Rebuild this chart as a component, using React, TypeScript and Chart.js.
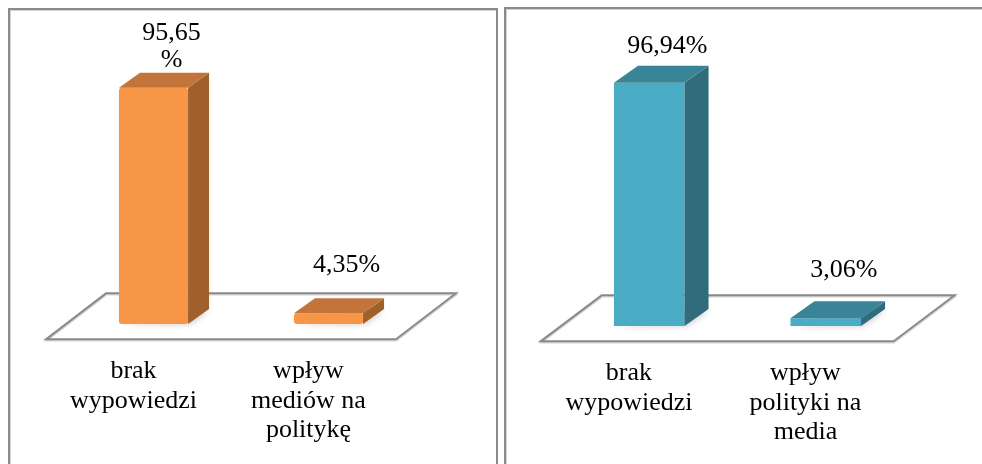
import React, { useEffect, useRef } from "react";
import { Chart, registerables } from "chart.js";

Chart.register(...registerables);

// ---------- data ----------
const categoriesLeft: string[][] = [["brak", "wypowiedzi"], ["wpływ", "mediów na", "politykę"]];
const valuesLeft: number[] = [95.65, 4.35];
const categoriesRight: string[][] = [["brak", "wypowiedzi"], ["wpływ", "polityki na", "media"]];
const valuesRight: number[] = [96.94, 3.06];
const axisMin = 0;
const axisMax = 100;
// whether a value label wraps before the "%" sign (as in the original)
const wrapLeft: boolean[] = [true, false];
const wrapRight: boolean[] = [false, false];

const FONT = '"Liberation Serif", "Times New Roman", serif';

function fmt(v: number, wrap: boolean): string[] {
  const s = v.toFixed(2).replace(".", ",");
  return wrap ? [s, "%"] : [s + "%"];
}

const bar3d = {
  id: "bar3d",
  beforeDatasetsDraw(chart: any, _args: any, opts: any) {
    const { ctx, chartArea: ca } = chart;
    const ys = chart.scales.y;
    const D = opts.floorDepth;
    const base = ys.getPixelForValue(0);
    const f = 1 / 3;
    const pts = [
      [ca.left - D.x * f, base - D.y * f],
      [ca.right - D.x * f, base - D.y * f],
      [ca.right + D.x * (1 - f), base + D.y * (1 - f)],
      [ca.left + D.x * (1 - f), base + D.y * (1 - f)],
    ];
    const path = () => {
      ctx.beginPath();
      ctx.moveTo(pts[0][0], pts[0][1]);
      for (let i = 1; i < 4; i++) ctx.lineTo(pts[i][0], pts[i][1]);
      ctx.closePath();
    };
    ctx.save();
    path();
    ctx.fillStyle = "#ffffff";
    ctx.fill();
    ctx.save();
    ctx.translate(0.5, 1.5);
    path();
    ctx.strokeStyle = "#d6d6d6";
    ctx.lineWidth = 1.5;
    ctx.stroke();
    ctx.restore();
    path();
    ctx.strokeStyle = "#8a8a8a";
    ctx.lineWidth = 2;
    ctx.stroke();
    // soft shadows of the bars on the floor
    const meta = chart.getDatasetMeta(0);
    const d = opts.barDepth;
    meta.data.forEach((bar: any) => {
      const { x, base: b, width } = bar.getProps(["x", "base", "width"], true);
      const r = x + width / 2;
      ctx.save();
      ctx.shadowColor = "rgba(0,0,0,0.35)";
      ctx.shadowBlur = 6;
      ctx.shadowOffsetX = 2;
      ctx.shadowOffsetY = 2;
      ctx.fillStyle = "rgba(200,200,200,0.6)";
      ctx.beginPath();
      ctx.moveTo(x - width / 2 + 2, b - 2);
      ctx.lineTo(r, b - 2);
      ctx.lineTo(r + d.x - 2, b + d.y);
      ctx.lineTo(r, b + d.y);
      ctx.closePath();
      ctx.fill();
      ctx.restore();
    });
    ctx.restore();
  },
  afterDatasetsDraw(chart: any, _args: any, opts: any) {
    const { ctx } = chart;
    const xs = chart.scales.x;
    const ys = chart.scales.y;
    const d = opts.barDepth;
    const D = opts.floorDepth;
    const meta = chart.getDatasetMeta(0);
    const values: number[] = chart.data.datasets[0].data;
    ctx.save();
    meta.data.forEach((bar: any, i: number) => {
      const { x, y, base, width } = bar.getProps(["x", "y", "base", "width"], true);
      const l = x - width / 2;
      const r = x + width / 2;
      // side face
      ctx.fillStyle = opts.sideColor;
      ctx.beginPath();
      ctx.moveTo(r, y);
      ctx.lineTo(r + d.x, y + d.y);
      ctx.lineTo(r + d.x, base + d.y);
      ctx.lineTo(r, base);
      ctx.closePath();
      ctx.fill();
      // top face
      ctx.fillStyle = opts.topColor;
      ctx.beginPath();
      ctx.moveTo(l, y);
      ctx.lineTo(l + d.x, y + d.y);
      ctx.lineTo(r + d.x, y + d.y);
      ctx.lineTo(r, y);
      ctx.closePath();
      ctx.fill();
      // value label
      const lines = fmt(values[i], opts.wrap[i]);
      ctx.fillStyle = "#000";
      ctx.font = `26px ${FONT}`;
      ctx.textAlign = "center";
      ctx.textBaseline = "alphabetic";
      const lastBase = Math.max(y - 41, opts.minLabelBaseline);
      const lh = 27;
      lines.forEach((t, k) => {
        ctx.fillText(t, x + 18, lastBase - (lines.length - 1 - k) * lh);
      });
    });
    // category labels (on the front edge of the floor)
    const base0 = ys.getPixelForValue(0);
    const cats: string[][] = chart.data.labels;
    ctx.fillStyle = "#000";
    ctx.font = `26px ${FONT}`;
    ctx.textAlign = "center";
    cats.forEach((lines, i) => {
      const cx = xs.getPixelForValue(i) - D.x / 3;
      lines.forEach((t, k) => {
        ctx.fillText(t, cx, base0 + 54 + k * 29.5);
      });
    });
    ctx.restore();
  },
};

type PanelProps = {
  labels: string[][];
  values: number[];
  wrap: boolean[];
  front: string;
  side: string;
  top: string;
  radius: number;
  width: number;
  left: number;
  padding: { left: number; right: number; top: number; bottom: number };
  floorDepth: { x: number; y: number };
  barDepth: { x: number; y: number };
  minLabelBaseline: number;
  barPct: number;
};

function Panel(p: PanelProps) {
  const ref = useRef<HTMLCanvasElement | null>(null);
  useEffect(() => {
    if (!ref.current) return;
    const chart = new Chart(ref.current, {
      type: "bar",
      data: {
        labels: p.labels as any,
        datasets: [
          {
            data: p.values,
            backgroundColor: p.front,
            borderWidth: 0,
            borderRadius: p.radius,
            borderSkipped: false,
            categoryPercentage: 1,
            barPercentage: p.barPct,
          },
        ],
      },
      options: {
        responsive: false,
        animation: false,
        layout: { padding: p.padding },
        scales: {
          x: { display: false, offset: true },
          y: { display: false, min: axisMin, max: axisMax },
        },
        plugins: {
          legend: { display: false },
          tooltip: { enabled: false },
          bar3d: {
            sideColor: p.side,
            topColor: p.top,
            floorDepth: p.floorDepth,
            barDepth: p.barDepth,
            wrap: p.wrap,
            minLabelBaseline: p.minLabelBaseline,
          },
        } as any,
      },
      plugins: [bar3d],
    });
    return () => chart.destroy();
  }, []);
  return (
    <canvas
      ref={ref}
      width={p.width}
      height={464}
      style={{ position: "absolute", left: p.left, top: 0, display: "block" }}
    />
  );
}

export default function App() {
  return (
    <div
      style={{
        position: "fixed",
        left: 0,
        top: 0,
        width: 982,
        height: 464,
        background: "#fff",
        overflow: "hidden",
      }}
    >
      <div
        style={{
          position: "absolute",
          left: 8,
          top: 8,
          width: 486,
          height: 480,
          border: "2px solid #8a8a8a",
          boxShadow: "inset 1px 1px 0 #d0d0d0",
        }}
      />
      <div
        style={{
          position: "absolute",
          left: 504,
          top: 7,
          width: 500,
          height: 480,
          border: "2px solid #8a8a8a",
          boxShadow: "inset 1px 1px 0 #d0d0d0",
        }}
      />
      <Panel
        labels={categoriesLeft}
        values={valuesLeft}
        wrap={wrapLeft}
        front="#F79646"
        side="#A0602B"
        top="#C2743A"
        radius={3}
        width={500}
        left={0}
        padding={{ left: 66, right: 84, top: 77, bottom: 140 }}
        floorDepth={{ x: 60, y: -46 }}
        barDepth={{ x: 21, y: -15 }}
        minLabelBaseline={67}
        barPct={0.395}
      />
      <Panel
        labels={categoriesRight}
        values={valuesRight}
        wrap={wrapRight}
        front="#4BACC6"
        side="#306C7C"
        top="#3A8498"
        radius={0}
        width={482}
        left={500}
        padding={{ left: 61, right: 68, top: 75, bottom: 138 }}
        floorDepth={{ x: 61, y: -46 }}
        barDepth={{ x: 24, y: -17 }}
        minLabelBaseline={53}
        barPct={0.4}
      />
    </div>
  );
}
